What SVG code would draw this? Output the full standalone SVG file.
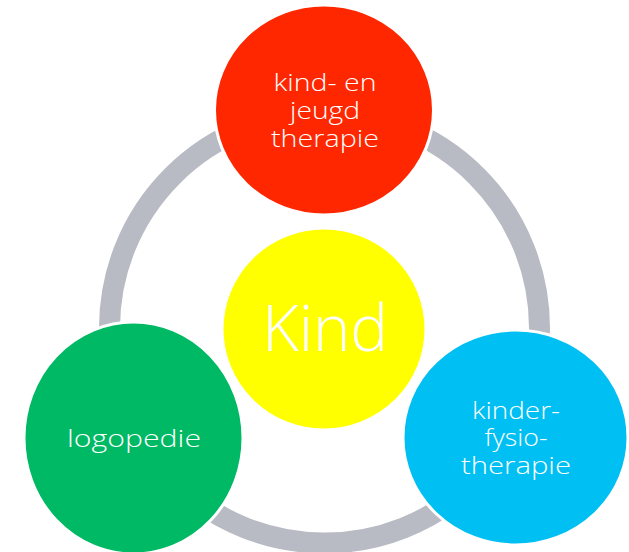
<svg xmlns="http://www.w3.org/2000/svg" width="629" height="552" viewBox="0 0 629 552">
<style>
.node{stroke:#ffffff;stroke-width:3}
.lbl{font-family:"Open Sans","Liberation Sans",sans-serif;font-weight:300;fill:#ffffff;text-anchor:middle;font-size:23px}
.big{font-size:64px}
</style>
<rect width="629" height="552" fill="#ffffff"/>
<g id="connectors">
<ellipse cx="324.5" cy="328" rx="215" ry="215" fill="none" stroke="#b8bbc4" stroke-width="21"/>
</g>
<g id="kind">
<ellipse class="node" cx="324" cy="329" rx="102" ry="101" fill="#ffff00"/>
<text class="lbl big" x="325" y="351" textLength="126" lengthAdjust="spacingAndGlyphs">Kind</text>
</g>
<g id="jeugdtherapie">
<ellipse class="node" cx="324" cy="110" rx="109.5" ry="105" fill="#ff2700"/>
<text class="lbl" x="325" y="91" textLength="103" lengthAdjust="spacingAndGlyphs">kind- en</text>
<text class="lbl" x="325" y="119" textLength="70" lengthAdjust="spacingAndGlyphs">jeugd</text>
<text class="lbl" x="325" y="147" textLength="108" lengthAdjust="spacingAndGlyphs">therapie</text>
</g>
<g id="logopedie">
<ellipse class="node" cx="133.5" cy="438" rx="109.5" ry="116" fill="#00b964"/>
<text class="lbl" x="134" y="447" textLength="134" lengthAdjust="spacingAndGlyphs">logopedie</text>
</g>
<g id="fysiotherapie">
<ellipse class="node" cx="515.5" cy="437.5" rx="112.5" ry="107.5" fill="#00bff3"/>
<text class="lbl" x="516" y="419" textLength="88" lengthAdjust="spacingAndGlyphs">kinder-</text>
<text class="lbl" x="516" y="446" textLength="63" lengthAdjust="spacingAndGlyphs">fysio-</text>
<text class="lbl" x="516" y="474" textLength="110" lengthAdjust="spacingAndGlyphs">therapie</text>
</g>
</svg>
